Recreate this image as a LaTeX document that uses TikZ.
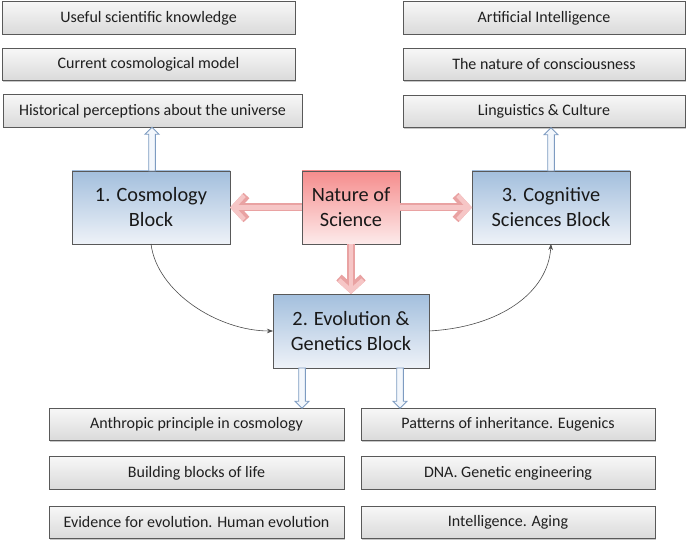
\documentclass[tikz,border=0pt]{standalone}
\usepackage{fontspec}
\setmainfont{Carlito}
\usetikzlibrary{calc,arrows.meta,shadows}
\definecolor{grayedge}{HTML}{595959}
\definecolor{graytop}{HTML}{F7F7F7}
\definecolor{graybot}{HTML}{DADADA}
\definecolor{bluetop}{HTML}{A3BFDD}
\definecolor{bluebot}{HTML}{EEF2F8}
\definecolor{redtop}{HTML}{F58C8C}
\definecolor{redbot}{HTML}{FDEBEB}
\definecolor{redout}{HTML}{E9A2A2}
\definecolor{redin}{HTML}{F6C6C6}
\definecolor{blueedge}{HTML}{7D9BC1}
\definecolor{bluefill}{HTML}{F3F7FC}
\newcommand{\blockarr}[6]{%
  \coordinate (ba-s) at (#2);
  \coordinate (ba-e) at (#3);
  \coordinate (ba-h) at ($(ba-e)!#6!(ba-s)$);
  \draw[#1] ($(ba-s)!#4!90:(ba-e)$) -- ($(ba-h)!#4!-90:(ba-s)$) -- ($(ba-h)!#5!-90:(ba-s)$) -- (ba-e) -- ($(ba-h)!#5!90:(ba-s)$) -- ($(ba-h)!#4!90:(ba-s)$) -- ($(ba-s)!#4!-90:(ba-e)$) -- cycle;}
\begin{document}
\begin{tikzpicture}[x=1pt,y=1pt,
  shade/.style={drop shadow={shadow xshift=1.2pt,shadow yshift=-1.2pt,opacity=0.22,fill=black}},
  gbox/.style={shade, draw=grayedge, line width=0.8pt, top color=graytop, bottom color=graybot,
    minimum height=32.5pt, inner sep=0pt, outer sep=0pt, font=\fontsize{16}{18}\selectfont, text=black!88},
  bbox/.style={shade, draw=grayedge, line width=0.8pt, top color=bluetop, bottom color=bluebot,
    minimum width=158pt, minimum height=73pt, inner sep=0pt, outer sep=0pt, align=center,
    font=\fontsize{20.3}{25}\selectfont, text=black!90},
  rbox/.style={bbox, top color=redtop, bottom color=redbot, minimum width=98pt},
  bluearr/.style={draw=blueedge, fill=bluefill, line width=0.9pt, line join=miter},
  redarr/.style={line width=#1, -{Straight Barb[length=11pt,width=24pt]}},
  curvearr/.style={draw=black!70, line width=0.6pt, -{Stealth[length=6pt,width=4.5pt]}}
]
\useasboundingbox (0,0) rectangle (700,541);

% top-left column
\node[gbox, minimum width=293pt] (tl1) at (148.5,523) {Useful scientific knowledge};
\node[gbox, minimum width=293pt] (tl2) at (148.5,476.5) {Current cosmological model};
\node[gbox, minimum width=299pt] (tl3) at (152.5,430) {Historical perceptions about the universe};
% top-right column
\node[gbox, minimum width=282pt] (tr1) at (544,523) {Artificial Intelligence};
\node[gbox, minimum width=282pt] (tr2) at (544,476.5) {The nature of consciousness};
\node[gbox, minimum width=282pt] (tr3) at (544,429.5) {Linguistics \& Culture};

% blocks
\node[bbox] (cos) at (151,333.5) {1. Cosmology\\Block};
\node[rbox] (nat) at (351,333.5) {Nature of\\Science};
\node[bbox] (cog) at (551,333.5) {3. Cognitive\\Sciences Block};
\node[bbox, minimum width=156pt, minimum height=74pt] (evo) at (351,210) {2. Evolution \&\\Genetics Block};

% bottom columns
\node[gbox, minimum width=295pt] (bl1) at (196.5,116.5) {Anthropic principle in cosmology};
\node[gbox, minimum width=295pt] (bl2) at (196.5,68) {Building blocks of life};
\node[gbox, minimum width=295pt] (bl3) at (196.5,18.5) {Evidence for evolution. Human evolution};
\node[gbox, minimum width=294pt] (br1) at (508,116.5) {Patterns of inheritance. Eugenics};
\node[gbox, minimum width=294pt] (br2) at (508,68) {DNA. Genetic engineering};
\node[gbox, minimum width=294pt] (br3) at (508,18.5) {Intelligence. Aging};

% red arrows from Nature of Science
\draw[redarr=8pt, draw=redout] (nat.west) -- (cos.east);
\draw[redarr=4.5pt, draw=redin] (nat.west) -- (cos.east);
\draw[redarr=8pt, draw=redout] (nat.east) -- (cog.west);
\draw[redarr=4.5pt, draw=redin] (nat.east) -- (cog.west);
\draw[redarr=8pt, draw=redout] (nat.south) -- (evo.north);
\draw[redarr=4.5pt, draw=redin] (nat.south) -- (evo.north);

% blue hollow arrows
\coordinate (u1s) at ($(cos.north)+(1,0)$);
\coordinate (u1e) at (u1s |- tl3.south);
\blockarr{bluearr}{u1s}{u1e}{3.3pt}{7pt}{7pt}
\coordinate (u2s) at (cog.north);
\coordinate (u2e) at (u2s |- tr3.south);
\blockarr{bluearr}{u2s}{u2e}{3.3pt}{7pt}{7pt}
\coordinate (d1s) at ($(evo.south)+(-49,0)$);
\coordinate (d1e) at (d1s |- bl1.north);
\blockarr{bluearr}{d1s}{d1e}{3.3pt}{7pt}{7pt}
\coordinate (d2s) at ($(evo.south)+(49,0)$);
\coordinate (d2e) at (d2s |- br1.north);
\blockarr{bluearr}{d2s}{d2e}{3.3pt}{7pt}{7pt}

% thin curved connectors
\draw[curvearr] (cos.south) .. controls +(6,-48) and +(-55,0) .. (evo.west);
\draw[curvearr] (evo.east) .. controls +(72,4) and +(-3,-48) .. (cog.south);
\end{tikzpicture}
\end{document}
